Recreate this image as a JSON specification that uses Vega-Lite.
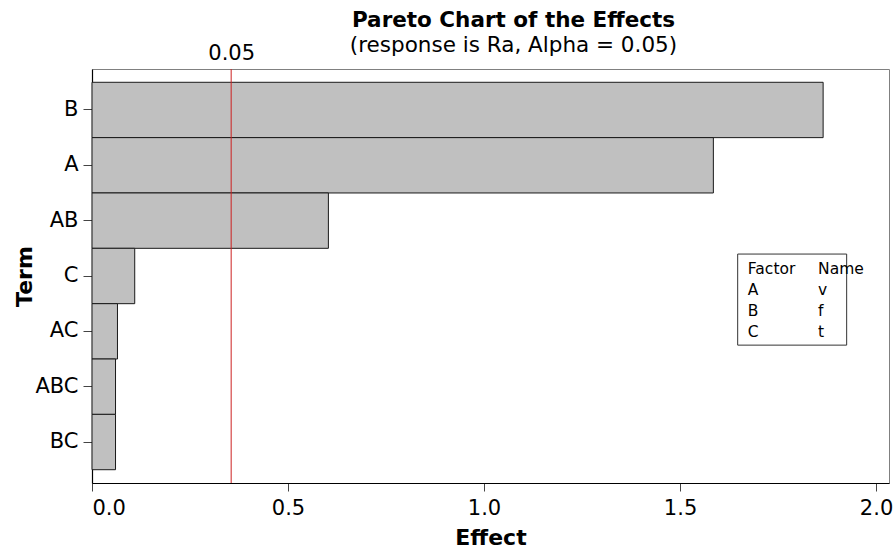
{
  "$schema": "https://vega.github.io/schema/vega-lite/v6.json",
  "autosize": "none",
  "padding": {"left": 92, "top": 69, "right": 6, "bottom": 66},
  "width": 797,
  "height": 414,
  "background": "white",
  "config": {
    "font": "DejaVu Sans",
    "view": {"stroke": "#808080", "strokeWidth": 1}
  },
  "title": {
    "text": "Pareto Chart of the Effects",
    "subtitle": "(response is Ra, Alpha = 0.05)",
    "font": "DejaVu Sans",
    "fontSize": 21.5,
    "fontWeight": "bold",
    "subtitleFont": "DejaVu Sans",
    "subtitleFontSize": 21.5,
    "subtitleColor": "black",
    "color": "black",
    "anchor": "middle",
    "frame": "group",
    "dx": 23,
    "offset": -14,
    "subtitlePadding": 3
  },
  "datasets": {
    "effects": [
      {"Term": "B", "Effect": 1.865},
      {"Term": "A", "Effect": 1.585},
      {"Term": "AB", "Effect": 0.603},
      {"Term": "C", "Effect": 0.109},
      {"Term": "AC", "Effect": 0.065},
      {"Term": "ABC", "Effect": 0.060},
      {"Term": "BC", "Effect": 0.060}
    ],
    "crit": [{"value": 0.355, "label": "0.05"}],
    "legendBox": [{"x1": 1.647, "x2": 1.925, "y1": 44.7, "y2": 66.7}],
    "legendText": [
      {"col": 1.673, "row": 48.3, "text": "Factor"},
      {"col": 1.852, "row": 48.3, "text": "Name"},
      {"col": 1.673, "row": 53.4, "text": "A"},
      {"col": 1.852, "row": 53.4, "text": "v"},
      {"col": 1.673, "row": 58.5, "text": "B"},
      {"col": 1.852, "row": 58.5, "text": "f"},
      {"col": 1.673, "row": 63.6, "text": "C"},
      {"col": 1.852, "row": 63.6, "text": "t"}
    ]
  },
  "layer": [
    {
      "data": {"name": "effects"},
      "mark": {"type": "bar", "fill": "#c0c0c0", "stroke": "#1a1a1a", "strokeWidth": 1},
      "encoding": {
        "y": {
          "field": "Term",
          "type": "nominal",
          "sort": ["B", "A", "AB", "C", "AC", "ABC", "BC"],
          "scale": {"paddingInner": 0, "paddingOuter": 0.24},
          "axis": {
            "title": "Term",
            "titleFontSize": 22,
            "titleFontWeight": "bold",
            "titleColor": "black",
            "titlePadding": -2,
            "labelFontSize": 21,
            "labelColor": "black",
            "labelPadding": 5,
            "tickSize": 9,
            "tickColor": "#444",
            "domainColor": "black",
            "domainWidth": 1.2
          }
        },
        "x": {
          "field": "Effect",
          "type": "quantitative",
          "scale": {"domain": [0, 2.033], "nice": false, "zero": true},
          "axis": {
            "title": "Effect",
            "titleFontSize": 22,
            "titleFontWeight": "bold",
            "titleColor": "black",
            "titlePadding": 9,
            "labelFontSize": 21,
            "labelColor": "black",
            "labelPadding": 6,
            "values": [0, 0.5, 1, 1.5, 2],
            "format": ".1f",
            "tickSize": 8,
            "tickColor": "#444",
            "domainColor": "black",
            "domainWidth": 1.2,
            "grid": false,
            "orient": "bottom"
          }
        }
      }
    },
    {
      "data": {"name": "crit"},
      "mark": {"type": "rule", "color": "#cc2020", "strokeWidth": 1},
      "encoding": {
        "x": {
          "field": "value",
          "type": "quantitative",
          "axis": {
            "orient": "top",
            "title": null,
            "values": [0.355],
            "labelExpr": "'0.05'",
            "labelFontSize": 21,
            "labelColor": "black",
            "labelPadding": 6,
            "ticks": false,
            "domain": false,
            "grid": false
          }
        }
      }
    },
    {
      "data": {"name": "legendBox"},
      "mark": {"type": "rect", "fill": "white", "stroke": "#333", "strokeWidth": 1},
      "encoding": {
        "x": {"field": "x1", "type": "quantitative", "axis": null},
        "x2": {"field": "x2"},
        "y": {"field": "y1", "type": "quantitative", "scale": {"domain": [0, 100], "reverse": true}, "axis": null},
        "y2": {"field": "y2"}
      }
    },
    {
      "data": {"name": "legendText"},
      "mark": {"type": "text", "align": "left", "baseline": "middle", "fontSize": 15.5, "color": "black"},
      "encoding": {
        "x": {"field": "col", "type": "quantitative", "axis": null},
        "y": {"field": "row", "type": "quantitative", "scale": {"domain": [0, 100], "reverse": true}, "axis": null},
        "text": {"field": "text"}
      }
    }
  ],
  "resolve": {"scale": {"y": "independent"}, "axis": {"x": "independent", "y": "independent"}}
}
